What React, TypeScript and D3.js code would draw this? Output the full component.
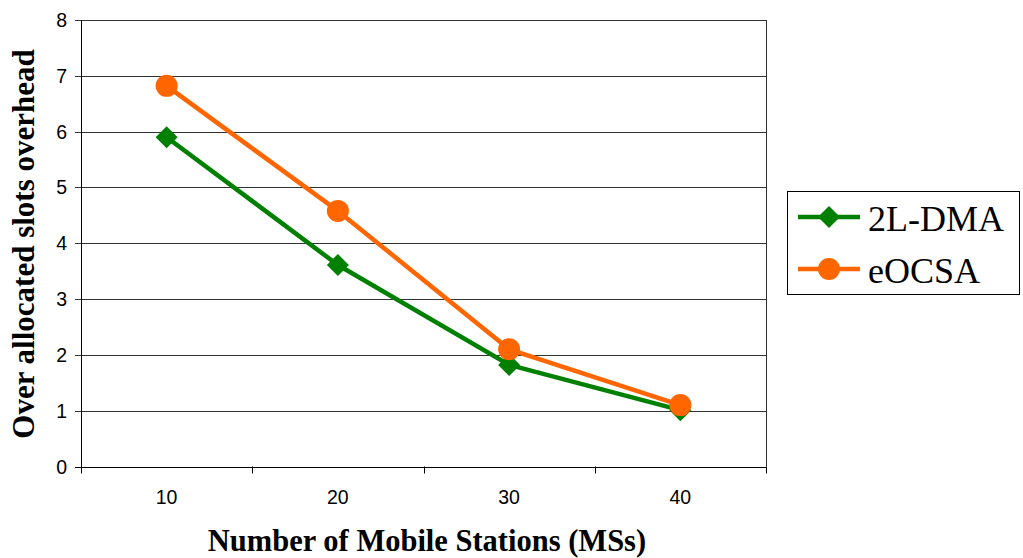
import React from "react";
import * as d3 from "d3";

const categories = ["10", "20", "30", "40"];
const yTicks = [0, 1, 2, 3, 4, 5, 6, 7, 8];
const dma = [5.9, 3.61, 1.82, 1.01];
const eocsa = [6.82, 4.58, 2.1, 1.1];
const seriesNames = ["2L-DMA", "eOCSA"];

const W = 1023, H = 558;
const L = 81, R = 766, T = 20, B = 466.5;

export default function App() {
  const x = d3.scaleBand<string>().domain(categories).range([L, R]);
  const y = d3.scaleLinear().domain([0, 8]).range([B, T]);
  const cx = (c: string) => (x(c) as number) + x.bandwidth() / 2;
  const line = d3.line<number>().x((_, i) => cx(categories[i])).y((v) => y(v));
  const diamond = (px: number, py: number, s: number) =>
    `M${px},${py - s}L${px + s},${py}L${px},${py + s}L${px - s},${py}Z`;
  const green = "#008000", orange = "#FF6600";
  const bounds = [...categories.map((c) => x(c) as number), R];
  return (
    <svg width={W} height={H} style={{ position: "absolute", left: 0, top: 0 }}>
      <rect width={W} height={H} fill="#fff" />
      {yTicks.map((t) => (
        <g key={t}>
          <line x1={L - 6} x2={t === 0 ? L : R} y1={Math.round(y(t)) + 0.5} y2={Math.round(y(t)) + 0.5} stroke={t === 0 ? "#000" : "#333"} strokeWidth={1} />
          <text x={67} y={y(t) + 7} textAnchor="end" fontFamily="Liberation Sans, Arial" fontSize={19.5}>{t}</text>
        </g>
      ))}
      <line x1={L} x2={R} y1={Math.round(B) + 0.5} y2={Math.round(B) + 0.5} stroke="#000" />
      <line x1={L + 0.5} x2={L + 0.5} y1={T} y2={B + 1} stroke="#000" />
      <line x1={R + 0.5} x2={R + 0.5} y1={T} y2={B} stroke="#333" />
      {bounds.map((b, i) => (
        <line key={i} x1={Math.round(b) + 0.5} x2={Math.round(b) + 0.5} y1={B} y2={B + 7} stroke="#000" />
      ))}
      {categories.map((c) => (
        <text key={c} x={cx(c)} y={504} textAnchor="middle" fontFamily="Liberation Sans, Arial" fontSize={19.5}>{c}</text>
      ))}
      <path d={line(dma) || ""} fill="none" stroke={green} strokeWidth={4.5} strokeLinejoin="round" />
      {dma.map((v, i) => (
        <path key={i} d={diamond(cx(categories[i]), y(v), 11)} fill={green} />
      ))}
      <path d={line(eocsa) || ""} fill="none" stroke={orange} strokeWidth={4.5} strokeLinejoin="round" />
      {eocsa.map((v, i) => (
        <circle key={i} cx={cx(categories[i])} cy={y(v)} r={11} fill={orange} />
      ))}
      <text x={427} y={551} textAnchor="middle" fontFamily="Liberation Serif, Times New Roman" fontWeight="bold" fontSize={30.5}>Number of Mobile Stations (MSs)</text>
      <text transform={`translate(34,244) rotate(-90)`} textAnchor="middle" fontFamily="Liberation Serif, Times New Roman" fontWeight="bold" fontSize={31}>Over allocated slots overhead</text>
      <rect x={787.5} y={191.5} width={232} height={103} fill="#fff" stroke="#000" />
      <line x1={798} x2={860} y1={217} y2={217} stroke={green} strokeWidth={4.5} />
      <path d={diamond(829, 217, 11)} fill={green} />
      <text x={868} y={231} fontFamily="Liberation Serif, Times New Roman" fontSize={36}>{seriesNames[0]}</text>
      <line x1={798} x2={860} y1={269} y2={269} stroke={orange} strokeWidth={4.5} />
      <circle cx={829} cy={269} r={11} fill={orange} />
      <text x={868} y={283} fontFamily="Liberation Serif, Times New Roman" fontSize={36}>{seriesNames[1]}</text>
    </svg>
  );
}
